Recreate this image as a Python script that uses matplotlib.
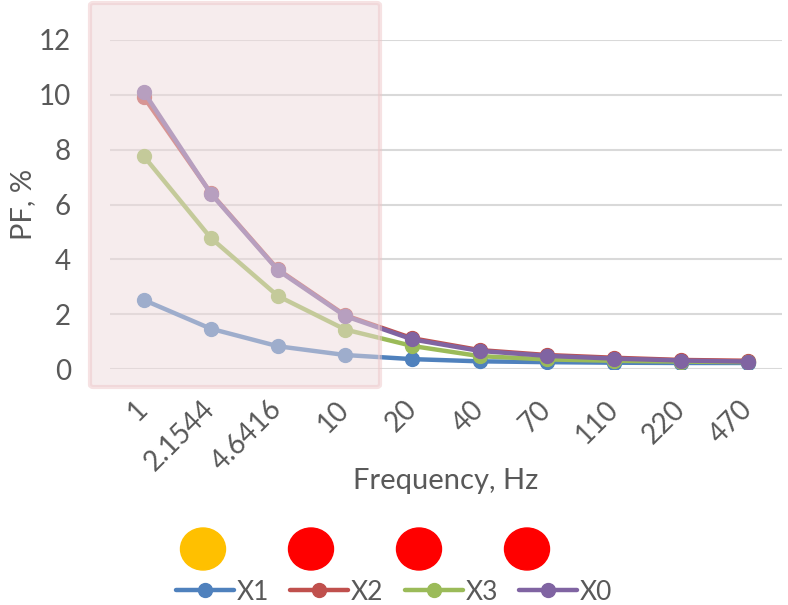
import matplotlib.pyplot as plt
from matplotlib.patches import FancyBboxPatch, Ellipse

# data
freq_labels = ['1', '2.1544', '4.6416', '10', '20', '40', '70', '110', '220', '470']
x1 = [2.52, 1.47, 0.83, 0.51, 0.36, 0.28, 0.25, 0.23, 0.22, 0.22]
x2 = [9.93, 6.42, 3.63, 1.96, 1.12, 0.69, 0.51, 0.41, 0.33, 0.30]
x3 = [7.77, 4.78, 2.66, 1.44, 0.84, 0.47, 0.35, 0.30, 0.27, 0.25]
x0 = [10.12, 6.40, 3.60, 1.93, 1.08, 0.66, 0.48, 0.38, 0.31, 0.27]
series_names = ['X1', 'X2', 'X3', 'X0']
series_colors = ['#4f81bd', '#c0504d', '#9bbb59', '#8064a2']
dot_colors = ['#ffc000', '#ff0000', '#ff0000', '#ff0000']

plt.rcParams['font.family'] = ['Lato', 'DejaVu Sans']
grey = '#595959'

fig = plt.figure(figsize=(7.88, 6.05), dpi=100)
ax = fig.add_axes([110 / 788, 1 - 369 / 605, 672 / 788, 329 / 605])

pos = list(range(len(freq_labels)))
for vals, name, col in zip([x1, x2, x3, x0], series_names, series_colors):
    ax.plot(pos, vals, color=col, lw=3.2, marker='o', ms=10, label=name,
            solid_capstyle='round', zorder=3)

ax.set_xlim(-0.5, len(freq_labels) - 0.5)
ax.set_ylim(0, 12)
ax.set_yticks(range(0, 13, 2))
ax.set_xticks(pos)
ax.set_xticklabels(freq_labels, rotation=45, ha='right', va='center',
                   rotation_mode='anchor')
ax.tick_params(axis='both', length=0, colors=grey, labelsize=20)
ax.tick_params(axis='x', pad=26)
ax.tick_params(axis='y', pad=28)
ax.grid(axis='y', color='#d9d9d9', lw=1.5)
ax.set_axisbelow(True)
for s in ax.spines.values():
    s.set_visible(False)

ax.set_xlabel('Frequency, Hz', fontsize=21, color=grey, labelpad=-6)
ax.set_ylabel('PF, %', fontsize=21, color=grey, labelpad=2)

# shaded highlight box over the low frequency part
box = FancyBboxPatch((90 / 788, 1 - 387 / 605), 290 / 788, 384 / 605,
                     boxstyle='round,pad=0,rounding_size=0.004',
                     transform=fig.transFigure, facecolor='#eedadc',
                     edgecolor='#eec6c8', lw=3, alpha=0.5, zorder=5)
fig.patches.append(box)

# coloured dots above the legend
for i, c in enumerate(dot_colors):
    cx = (203 + i * 108) / 788
    fig.patches.append(Ellipse((cx, 1 - 549 / 605), 45 / 788, 42 / 605,
                               transform=fig.transFigure, color=c, zorder=5))

fig.legend(loc='center', bbox_to_anchor=(0.5, 1 - 592 / 605), ncol=4,
           frameon=False, fontsize=19, handlelength=2.2, handletextpad=0.1,
           columnspacing=0.8, labelcolor=grey)

fig.savefig('out.png', dpi=100)
